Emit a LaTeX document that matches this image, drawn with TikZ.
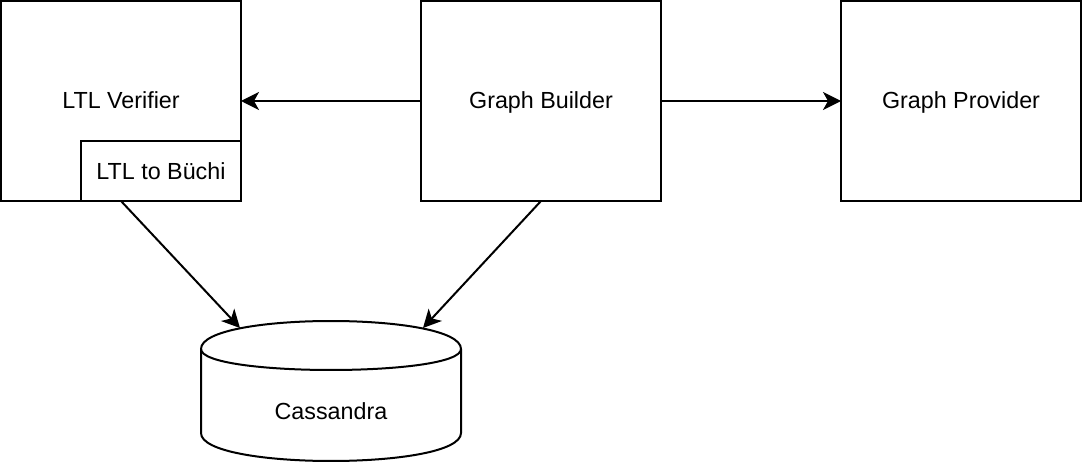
\documentclass[tikz,border=0pt]{standalone}
\usepackage{fontspec}
\setmainfont{Liberation Sans}
\usetikzlibrary{arrows.meta}
\begin{document}
\begin{tikzpicture}[x=1pt,y=-1pt,
  boxline/.style={line width=2pt, draw=black, fill=white},
  lbl/.style={font=\fontsize{23.3}{27}\selectfont, inner sep=0pt, anchor=base},
  conn/.style={line width=2pt, -{Stealth[length=18pt,width=18pt,inset=5pt]}}]
\useasboundingbox[fill=white] (0,0) rectangle (1082,462);
% boxes
\draw[boxline] (1,1) rectangle (241,201);
\node[lbl] (ver) at (121,109) {LTL Verifier};
\draw[boxline] (81,141) rectangle (241,201);
\node[lbl] (buchi) at (161,180) {LTL to Büchi};
\draw[boxline] (421,1) rectangle (661,201);
\node[lbl] (gb) at (541,109) {Graph Builder};
\draw[boxline] (841,1) rectangle (1081,201);
\node[lbl] (gp) at (961,109) {Graph Provider};
% cylinder
\draw[boxline] (201,349) .. controls (201,311.67) and (461,311.67) .. (461,349) -- (461,433) .. controls (461,470.33) and (201,470.33) .. (201,433) -- cycle;
\draw[line width=2pt] (201,349) .. controls (201,377) and (461,377) .. (461,349);
\node[lbl] (cas) at (331,419) {Cassandra};
% anchor coordinates
\coordinate (verR) at (241,101);
\coordinate (gbL) at (421,101);
\coordinate (gbR) at (661,101);
\coordinate (gpL) at (841,101);
\coordinate (buchiB) at (121,201);
\coordinate (gbB) at (541,201);
\coordinate (casL) at (240,328);
\coordinate (casR) at (423,328);
% connectors
\draw[conn] (gbL) -- (verR);
\draw[conn] (gbR) -- (gpL);
\draw[conn] (buchiB) -- (casL);
\draw[conn] (gbB) -- (casR);
\end{tikzpicture}
\end{document}
